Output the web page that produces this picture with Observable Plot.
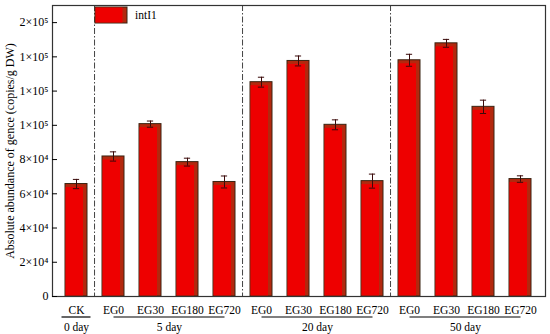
<!DOCTYPE html>
<html><head><meta charset="utf-8">
<script src="https://cdn.jsdelivr.net/npm/d3@7"></script>
<script src="https://cdn.jsdelivr.net/npm/@observablehq/plot@0.6"></script>
<style>body{margin:0;background:#fff;} #chart{position:relative;width:550px;height:334px;}</style>
</head><body><div id="chart"></div>
<script>
// ---- data ----
const categories = ["CK","EG0","EG30","EG180","EG720","EG0","EG30","EG180","EG720","EG0","EG30","EG180","EG720"];
const groups = ["0 day","5 day","5 day","5 day","5 day","20 day","20 day","20 day","20 day","50 day","50 day","50 day","50 day"];
const values = [65700, 81800, 100700, 78500, 66900, 125200, 137600, 100300, 67400, 138000, 147900, 110800, 68600];
const errors = [2700, 2700, 1800, 2300, 3500, 2900, 2900, 2900, 4100, 3500, 2300, 3900, 1900];
const groupNames = ["0 day","5 day","20 day","50 day"];
const yTicks = [0, 20000, 40000, 60000, 80000, 100000, 120000, 140000, 160000];
const seriesName = "intI1";
const yLabel = "Absolute abundance of gence (copies/g DW)";

// ---- build ----
const data = categories.map((c, i) => ({key: `${c}|${groups[i]}`, cat: c, group: groups[i], value: values[i], err: errors[i]}));
const W = 550, H = 334, ML = 52, MR = 5, MT = 5, MB = 38;
const step = (W - ML - MR) / data.length;
const bandwidth = step * 0.6;
const capInset = (bandwidth - 7) / 2;

const gInfo = groupNames.map(g => {
  const rows = data.filter(d => d.group === g);
  return {group: g, first: rows[0].key, last: rows[rows.length - 1].key, n: rows.length,
          mid: rows[Math.floor((rows.length - 1) / 2)].key};
});
const multi = gInfo.filter(g => g.n > 1);
const single = gInfo.filter(g => g.n === 1);
const boundaries = gInfo.slice(1).map(g => g.first);

const sup = {"0":"⁰","1":"¹","2":"²","3":"³","4":"⁴","5":"⁵","6":"⁶","7":"⁷","8":"⁸","9":"⁹"};
function fmt(v) {
  if (v === 0) return "0";
  const e = Math.floor(Math.log10(v));
  const m = Math.round(v / Math.pow(10, e));
  return `${m}×10${String(e).split("").map(c => sup[c]).join("")}`;
}

const chart = Plot.plot({
  width: W, height: H,
  marginLeft: ML, marginRight: MR, marginTop: MT, marginBottom: MB,
  style: {fontFamily: "'Liberation Serif', 'Times New Roman', serif", fontSize: "11.5px", background: "#fff", color: "#000"},
  x: {domain: data.map(d => d.key), paddingInner: 0.4, paddingOuter: 0.2, label: null},
  y: {domain: [0, 170000], label: null},
  marks: [
    Plot.ruleX(boundaries, {x: d => d, dx: -step / 2, stroke: "#444", strokeWidth: 1, strokeDasharray: "6,2,1.5,2"}),
    Plot.barY(data, {x: "key", y: "value", fill: "#b3280e", stroke: "#3a2412", strokeWidth: 1}),
    Plot.barY(data, {x: "key", y: "value", fill: "#ee0000", insetLeft: 0.5, insetTop: 3.5, insetRight: 4, insetBottom: 0.5}),
    Plot.ruleX(data, {x: "key", y1: d => d.value - d.err, y2: d => d.value + d.err, stroke: "#3a0a0a", strokeWidth: 1}),
    Plot.tickY(data, {x: "key", y: d => d.value + d.err, insetLeft: capInset, insetRight: capInset, stroke: "#3a0a0a"}),
    Plot.tickY(data, {x: "key", y: d => d.value - d.err, insetLeft: capInset, insetRight: capInset, stroke: "#3a0a0a"}),
    Plot.frame({stroke: "#333", strokeWidth: 1.2}),
    Plot.tickY(yTicks, {y: d => d, insetRight: W - ML - MR - 5, stroke: "#000"}),
    Plot.axisY(yTicks, {tickSize: 0, tickPadding: 4, tickFormat: fmt, label: null, fontSize: 12}),
    Plot.axisX({tickSize: 0, tickPadding: 9, tickFormat: k => k.split("|")[0], label: null}),
    Plot.text([yLabel], {frameAnchor: "left", textAnchor: "middle", rotate: -90, dx: -42, fontSize: 12}),
    Plot.link(multi, {x1: "first", x2: "last", y1: () => 0, y2: () => 0, dy: 20.5, stroke: "#000", strokeWidth: 1.2}),
    Plot.tickY(single, {x: "first", y: () => 0, dy: 20.5, insetLeft: -3.5, insetRight: -3.5, stroke: "#000", strokeWidth: 1.2}),
    Plot.text(multi, {x: "mid", y: () => 0, text: "group", dx: step / 2, dy: 31, lineAnchor: "middle"}),
    Plot.text(single, {x: "mid", y: () => 0, text: "group", dy: 31, lineAnchor: "middle"})
  ]
});
document.getElementById("chart").appendChild(chart);

// legend inside plot area
const svg = d3.select(chart);
const lg = svg.append("g").attr("transform", "translate(95,7)");
lg.append("rect").attr("width", 32).attr("height", 16).attr("fill", "#b3280e").attr("stroke", "#3a2412");
lg.append("rect").attr("x", 0.5).attr("y", 0.5).attr("width", 27).attr("height", 15).attr("fill", "#ee0000");
lg.append("text").attr("x", 40).attr("y", 8).attr("dy", "0.35em").attr("text-anchor", "start").attr("font-size", "11.5px").text(seriesName);
</script>
</body></html>
